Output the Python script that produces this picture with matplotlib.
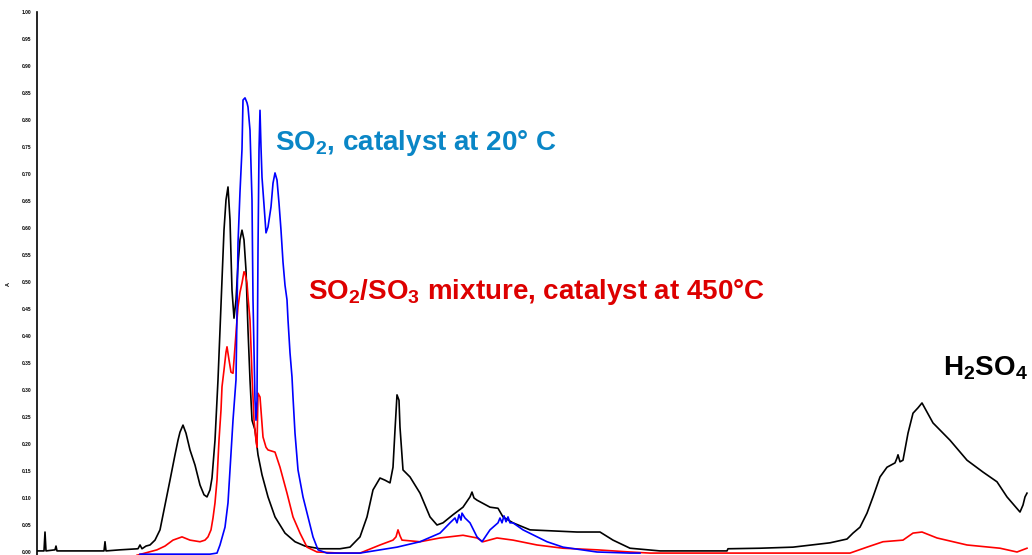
import matplotlib
matplotlib.use("Agg")
import matplotlib.pyplot as plt
import numpy as np

plt.rcParams['font.family'] = ['Liberation Sans', 'DejaVu Sans']
plt.rcParams['mathtext.fontset'] = 'custom'
plt.rcParams['mathtext.rm'] = 'Liberation Sans:bold'
plt.rcParams['mathtext.default'] = 'rm'

# ---- data (x: channel, y: relative absorbance 0..1) ----
black_x = [37, 44, 45, 46, 55, 56, 57, 70, 104, 105, 106, 120, 138, 140, 142, 146, 150, 155, 160, 165,
           170, 175, 178, 180, 183, 186, 190, 195, 200, 204, 207, 210, 212, 215, 218, 220, 222, 224, 226, 228,
           230, 232, 234, 236, 238, 240, 242, 244, 246, 248, 250, 252, 255, 258, 262, 268, 275, 285, 295, 305,
           320, 340, 350, 360, 367, 373, 380, 385, 390, 393, 395, 397, 399, 400, 403, 410, 420, 430, 437, 443,
           453, 463, 470, 472, 474, 477, 490, 498, 503, 513, 530, 577, 600, 613, 630, 660, 727, 728, 760, 793,
           830, 847, 853, 860, 867, 873, 880, 887, 895, 897, 898, 900, 903, 908, 913, 918, 922, 933, 950, 967,
           983, 997, 1007, 1020, 1023, 1025, 1027]
black_y = [0.002, 0.002, 0.037, 0.002, 0.004, 0.011, 0.002, 0.002, 0.002, 0.019, 0.002, 0.004, 0.006, 0.013, 0.006, 0.011, 0.013, 0.022, 0.041, 0.087,
           0.133, 0.180, 0.207, 0.222, 0.235, 0.220, 0.189, 0.161, 0.124, 0.106, 0.102, 0.115, 0.137, 0.207, 0.319, 0.411, 0.504, 0.596, 0.652, 0.676,
           0.615, 0.485, 0.433, 0.467, 0.532, 0.578, 0.596, 0.578, 0.522, 0.411, 0.319, 0.244, 0.226, 0.180, 0.143, 0.102, 0.065, 0.035, 0.019, 0.011,
           0.006, 0.006, 0.009, 0.028, 0.065, 0.115, 0.137, 0.133, 0.128, 0.157, 0.226, 0.291, 0.281, 0.231, 0.152, 0.139, 0.109, 0.065, 0.050, 0.054,
           0.069, 0.083, 0.102, 0.111, 0.100, 0.096, 0.083, 0.081, 0.065, 0.054, 0.041, 0.037, 0.037, 0.022, 0.007, 0.002, 0.002, 0.006, 0.007, 0.009,
           0.017, 0.024, 0.035, 0.046, 0.072, 0.102, 0.139, 0.157, 0.165, 0.174, 0.180, 0.167, 0.170, 0.220, 0.257, 0.267, 0.276, 0.239, 0.207, 0.170,
           0.148, 0.130, 0.102, 0.074, 0.087, 0.102, 0.109]

blue_x = [140, 210, 217, 220, 225, 228, 230, 233, 236, 238, 240, 242, 243, 245, 247, 248, 250, 252, 253, 255,
          256, 257, 258, 259, 260, 261, 262, 264, 266, 268, 271, 273, 275, 277, 279, 281, 283, 285, 287, 288,
          290, 292, 293, 295, 298, 303, 308, 313, 318, 327, 360, 397, 420, 440, 450, 455, 457, 459, 461, 462,
          465, 470, 477, 482, 490, 498, 500, 502, 504, 506, 508, 510, 513, 523, 547, 563, 597, 630, 640]
blue_y = [-0.004, -0.004, -0.002, 0.013, 0.046, 0.091, 0.152, 0.244, 0.319, 0.572, 0.667, 0.746, 0.837, 0.841, 0.832, 0.824, 0.781, 0.652, 0.467, 0.281,
          0.244, 0.281, 0.559, 0.744, 0.818, 0.750, 0.694, 0.643, 0.591, 0.602, 0.639, 0.683, 0.702, 0.689, 0.646, 0.596, 0.537, 0.494, 0.467, 0.430,
          0.369, 0.324, 0.287, 0.220, 0.152, 0.102, 0.065, 0.028, 0.004, -0.002, -0.002, 0.009, 0.019, 0.035, 0.054, 0.063, 0.054, 0.069, 0.059, 0.072,
          0.063, 0.054, 0.028, 0.019, 0.041, 0.054, 0.063, 0.054, 0.067, 0.056, 0.065, 0.054, 0.054, 0.041, 0.019, 0.009, 0.000, -0.002, -0.002]

red_x = [137, 157, 165, 173, 182, 190, 200, 205, 208, 211, 213, 215, 217, 219, 221, 222, 224, 226, 227, 229,
         231, 233, 235, 237, 238, 240, 242, 244, 245, 247, 248, 250, 251, 252, 254, 256, 257, 258, 260, 263,
         266, 268, 275, 280, 287, 293, 300, 307, 317, 340, 360, 380, 393, 396, 398, 400, 402, 420, 440, 463,
         477, 483, 497, 513, 537, 563, 597, 630, 650, 850, 867, 883, 903, 913, 922, 937, 967, 1000, 1017, 1027]
red_y = [-0.006, 0.004, 0.011, 0.022, 0.028, 0.022, 0.019, 0.022, 0.028, 0.041, 0.063, 0.091, 0.133, 0.207, 0.263, 0.306, 0.337, 0.370, 0.380, 0.356,
         0.333, 0.331, 0.380, 0.430, 0.454, 0.481, 0.498, 0.519, 0.517, 0.498, 0.472, 0.430, 0.380, 0.328, 0.244, 0.207, 0.194, 0.294, 0.287, 0.213,
         0.194, 0.189, 0.185, 0.157, 0.109, 0.065, 0.035, 0.009, 0.000, -0.002, -0.002, 0.013, 0.022, 0.028, 0.041, 0.030, 0.022, 0.019, 0.026, 0.031,
         0.026, 0.019, 0.026, 0.022, 0.013, 0.007, 0.004, 0.000, -0.002, -0.002, 0.009, 0.019, 0.022, 0.035, 0.037, 0.026, 0.013, 0.007, 0.000, 0.007]

ytick_vals = [round(0.05 * i, 2) for i in range(21)]
ytick_labels = ["%.2f" % v for v in ytick_vals]

label_blue = r"SO$_2$, catalyst at 20° C"
label_red = r"SO$_2$/SO$_3$ mixture, catalyst at 450°C"
label_black = r"H$_2$SO$_4$"

# ---- figure ----
W, H = 1032, 555
fig = plt.figure(figsize=(W / 100, H / 100), dpi=100)
ax = fig.add_axes([37 / W, 0 / H, (1030 - 37) / W, (555 - 12) / H])

ax.plot(black_x, black_y, color='black', lw=1.2)
ax.plot(red_x, red_y, color='#ff0000', lw=1.2)
ax.plot(blue_x, blue_y, color='#0000ff', lw=1.2)

ax.set_xlim(37, 1030)
ax.set_ylim(-3 / 540, 1.0)

ax.set_yticks(ytick_vals)
ax.set_yticklabels(ytick_labels, fontsize=3.5, fontweight='bold')
ax.tick_params(axis='y', length=0, pad=4)
ax.set_xticks([])
ax.set_ylabel("A", fontsize=4, fontweight='bold', labelpad=8)

for s in ['top', 'right', 'bottom']:
    ax.spines[s].set_visible(False)
ax.spines['left'].set_linewidth(1.2)

fs = 20
ax.text(275, (552 - 150) / 540, label_blue, color='#0a86c6', fontsize=fs,
        fontweight='bold', va='baseline', ha='left')
ax.text(308, (552 - 299) / 540, label_red, color='#dd0000', fontsize=fs,
        fontweight='bold', va='baseline', ha='left')
ax.text(943, (552 - 376) / 540, label_black, color='black', fontsize=fs,
        fontweight='bold', va='baseline', ha='left')

fig.savefig("out.png", dpi=100)
